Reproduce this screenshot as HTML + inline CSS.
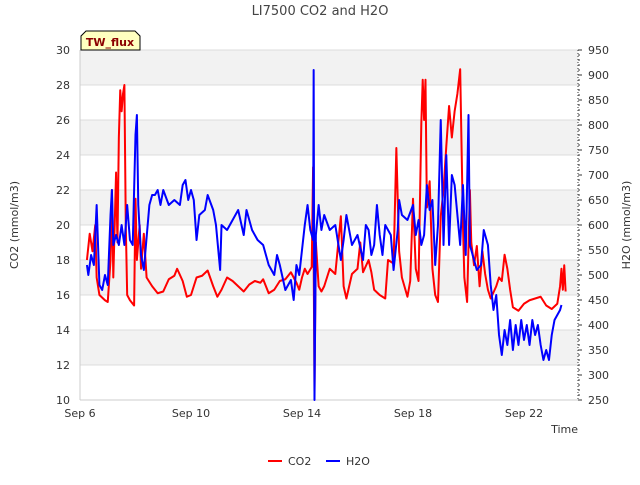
<!DOCTYPE html>
<html><head><meta charset="utf-8"><style>
body{margin:0;background:#fff;font-family:"Liberation Sans","DejaVu Sans",sans-serif}
svg text{font-family:"DejaVu Sans","Liberation Sans",sans-serif}
</style></head><body>
<svg id="c" width="640" height="480" xmlns="http://www.w3.org/2000/svg"></svg>
<script>
const co2T=[0.25,0.35,0.45,0.55,0.6,0.7,0.9,1.0,1.1,1.15,1.2,1.3,1.35,1.4,1.45,1.5,1.55,1.6,1.65,1.7,1.8,1.95,2.0,2.05,2.15,2.2,2.3,2.4,2.6,2.8,3.0,3.2,3.4,3.5,3.7,3.85,4.0,4.2,4.4,4.6,4.8,4.95,5.1,5.3,5.5,5.7,5.9,6.1,6.3,6.5,6.6,6.8,7.0,7.2,7.4,7.6,7.8,7.9,8.0,8.1,8.2,8.35,8.4,8.45,8.5,8.6,8.7,8.8,9.0,9.2,9.4,9.5,9.6,9.8,10.0,10.1,10.2,10.4,10.5,10.6,10.8,11.0,11.1,11.3,11.4,11.5,11.6,11.8,11.9,12.0,12.1,12.2,12.3,12.35,12.4,12.45,12.5,12.6,12.7,12.8,12.9,13.0,13.1,13.2,13.3,13.4,13.5,13.6,13.7,13.8,13.85,13.95,14.05,14.1,14.2,14.3,14.4,14.5,14.6,14.7,14.8,15.0,15.1,15.2,15.3,15.4,15.5,15.6,15.8,16.0,16.2,16.4,16.6,16.8,17.0,17.2,17.3,17.35,17.4,17.45,17.5];
const co2V=[18,19.5,18.5,20,17,16,15.7,15.6,18,22,17,23,19,25,27.7,26.5,27.5,28,20,16,15.7,15.4,21.5,18,20,17.5,19.5,17,16.5,16.1,16.2,16.9,17.1,17.5,16.8,15.9,16,17,17.1,17.4,16.5,15.9,16.3,17,16.8,16.5,16.2,16.6,16.8,16.7,16.9,16.1,16.3,16.8,16.9,17.3,16.7,16.3,17,17.5,17.2,17.6,23.3,10.5,19,16.5,16.2,16.5,17.5,17.2,20.5,16.5,15.8,17.2,17.5,19,17.3,18,17.3,16.3,16,15.8,18,17.8,24.4,18.5,17,15.9,16.8,21.5,17.5,16.8,25.8,28.3,26,28.3,21,22.5,17.5,16,15.6,20.5,22,24.5,26.8,25,26.5,27.5,28.9,20,17,15.6,22,19,17.7,18.8,16.5,18.5,17.2,16.3,15.8,16.5,17,16.8,18.3,17.5,16.3,15.3,15.1,15.5,15.7,15.8,15.9,15.4,15.2,15.5,16.5,17.5,16.3,17.7,16.2];
const h2oT=[0.25,0.3,0.4,0.5,0.6,0.7,0.8,0.9,1.0,1.1,1.15,1.2,1.3,1.4,1.5,1.6,1.7,1.8,1.9,2.0,2.05,2.1,2.2,2.3,2.5,2.6,2.7,2.8,2.9,3.0,3.2,3.4,3.6,3.7,3.8,3.9,4.0,4.1,4.2,4.3,4.5,4.6,4.8,4.9,5.05,5.1,5.3,5.5,5.7,5.9,6.0,6.1,6.2,6.4,6.6,6.8,7.0,7.1,7.2,7.4,7.6,7.7,7.8,7.9,8.1,8.2,8.3,8.4,8.42,8.45,8.5,8.6,8.7,8.8,9.0,9.2,9.4,9.5,9.6,9.8,10.0,10.2,10.3,10.4,10.5,10.6,10.7,10.8,10.9,11.0,11.2,11.3,11.45,11.5,11.6,11.8,12.0,12.1,12.2,12.3,12.4,12.5,12.6,12.7,12.8,12.9,13.0,13.1,13.2,13.3,13.4,13.5,13.6,13.7,13.8,13.9,14.0,14.05,14.15,14.3,14.45,14.55,14.7,14.8,14.9,15.0,15.1,15.2,15.3,15.4,15.5,15.6,15.7,15.8,15.9,16.0,16.1,16.2,16.3,16.4,16.5,16.6,16.7,16.8,16.9,17.0,17.1,17.2,17.3,17.35];
const h2oV=[520,500,540,520,640,480,470,500,480,620,670,560,580,560,600,560,640,570,560,780,820,640,540,510,640,660,660,670,640,670,640,650,640,680,690,650,670,650,570,620,630,660,630,600,510,600,590,610,630,580,630,610,590,570,560,520,500,540,520,470,490,450,520,500,600,640,590,570,910,250,580,640,590,620,590,600,530,570,620,560,580,530,600,590,540,560,640,580,540,600,580,510,590,650,620,610,640,580,610,560,580,680,630,650,520,600,810,560,740,560,700,680,620,560,680,540,820,560,540,510,520,590,560,480,430,460,380,340,390,360,410,350,400,360,410,370,400,360,410,380,400,360,330,350,330,380,410,420,430,440];
const leftTicks=[10,12,14,16,18,20,22,24,26,28,30];
const rightTicks=[250,300,350,400,450,500,550,600,650,700,750,800,850,900,950];
const xTickDays=[0,4,8,12,16];
const xTickLabels=['Sep 6','Sep 10','Sep 14','Sep 18','Sep 22'];

const svg=document.getElementById('c');const NS='http://www.w3.org/2000/svg';
const L=80,R=578,T=50,B=400;
const xS=d=>L+d*27.75;
const yL=v=>B-(v-10)/20*(B-T);
const yR=v=>B-(v-250)/700*(B-T);
function el(tag,attrs,parent){const e=document.createElementNS(NS,tag);for(const k in attrs)e.setAttribute(k,attrs[k]);(parent||svg).appendChild(e);return e;}
function txt(s,attrs){const e=el('text',attrs);e.textContent=s;return e;}
for(let v=12;v<30;v+=4){const r=el('rect',{x:L,y:yL(v+2),width:R-L,height:yL(v)-yL(v+2),fill:'#f2f2f2'});

}
leftTicks.forEach(v=>{const g=el('line',{x1:L,x2:R,y1:yL(v),y2:yL(v),stroke:'#dcdcdc','stroke-width':1});


const t=txt(String(v),{x:L-10,y:yL(v)+4,'text-anchor':'end','font-size':11,fill:'#333'});

});
const ax1=el('line',{x1:L,x2:L,y1:T,y2:B,stroke:'#ccc','stroke-width':1});


const ax2=el('line',{x1:L,x2:R,y1:B,y2:B,stroke:'#ccc','stroke-width':1});


rightTicks.forEach(v=>{el('line',{x1:R,x2:R+4,y1:yR(v),y2:yR(v),stroke:'#333'});
const t=txt(String(v),{x:R+10,y:yR(v)+4,'font-size':11,fill:'#333'});

});
for(let v=250;v<=950;v+=10)el('line',{x1:R,x2:R+2,y1:yR(v),y2:yR(v),stroke:'#333'});
el('line',{x1:R,x2:R,y1:T,y2:B,stroke:'#333','stroke-dasharray':'1,2'});
xTickDays.forEach((d,i)=>{const t=txt(xTickLabels[i],{x:xS(d),y:B+17,'text-anchor':'middle','font-size':11,fill:'#333'});

});
function line(T_,V,ys,color,name){const p=el('polyline',{points:T_.map((d,i)=>xS(d)+','+ys(V[i])).join(' '),fill:'none',stroke:color,'stroke-width':2,'stroke-linejoin':'round'});

}
line(co2T,co2V,yL,'#ff0000','co2-line');
line(h2oT,h2oV,yR,'#0000ff','h2o-line');
let t;
t=txt('LI7500 CO2 and H2O',{x:320,y:15,'text-anchor':'middle','font-size':13,fill:'#444'});


t=txt('CO2 (mmol/m3)',{x:18,y:225,'text-anchor':'middle','font-size':11,fill:'#333',transform:'rotate(-90 18 225)'});


t=txt('H2O (mmol/m3)',{x:630,y:225,'text-anchor':'middle','font-size':11,fill:'#333',transform:'rotate(-90 630 225)'});


t=txt('Time',{x:578,y:433,'text-anchor':'end','font-size':11,fill:'#333'});


const tag=el('path',{d:'M81,50 L81,36 L86,31 L135,31 L140,36 L140,50 Z',fill:'#ffffc0',stroke:'#000','stroke-width':1});


t=txt('TW_flux',{x:110,y:46,'text-anchor':'middle','font-size':11,'font-weight':'bold',fill:'#8b0000'});


el('line',{x1:268,x2:282,y1:461,y2:461,stroke:'#ff0000','stroke-width':2});
t=txt('CO2',{x:288,y:465,'font-size':11,fill:'#333'});


el('line',{x1:326,x2:340,y1:461,y2:461,stroke:'#0000ff','stroke-width':2});
t=txt('H2O',{x:346,y:465,'font-size':11,fill:'#333'});


</script>
</body></html>
